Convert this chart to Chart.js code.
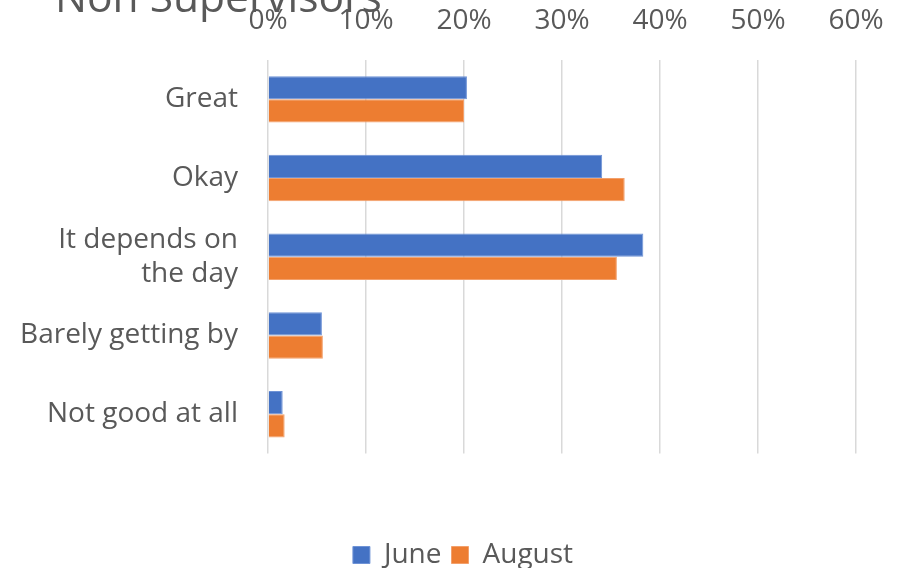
<!DOCTYPE html>
<html>
<head>
<meta charset="utf-8">
<script src="https://cdn.jsdelivr.net/npm/chart.js@4.4.1/dist/chart.umd.min.js"></script>
<style>
  html, body { margin: 0; padding: 0; background: #fff; }
  #wrap { width: 902px; height: 568px; position: relative; }
</style>
</head>
<body>
<div id="wrap"><canvas id="myChart"></canvas></div>
<script>
const categories = ['Great', 'Okay', ['It depends on', 'the day'], 'Barely getting by', 'Not good at all'];
const juneValues = [20.3, 34.1, 38.3, 5.5, 1.5];
const augustValues = [20.0, 36.4, 35.6, 5.6, 1.7];
const tickValues = [0, 10, 20, 30, 40, 50, 60];

const textColor = '#595959';
const fontFamily = "'Open Sans', 'Liberation Sans', sans-serif";

// title sits partly above the top edge of the canvas
const titlePlugin = {
    id: 'cutTitle',
    afterDraw(chart) {
        const c = chart.ctx;
        c.save();
        c.font = '42.5px ' + fontFamily;
        c.fillStyle = textColor;
        c.textBaseline = 'alphabetic';
        c.fillText('Non Supervisors', 55, 12);
        c.restore();
    }
};

// legend is centred a little right of the canvas middle
const legendShift = {
    id: 'legendShift',
    afterLayout(chart) {
        chart.legend.left += 30;
        chart.legend.right += 30;
    }
};

document.addEventListener('DOMContentLoaded', function () {
    const ctx = document.getElementById('myChart');

    new Chart(ctx, {
        type: 'bar',
        data: {
            labels: categories,
            datasets: [{
                label: 'June',
                data: juneValues,
                backgroundColor: '#4472C4',
                borderColor: '#6f93d6',
                borderWidth: 1
            }, {
                label: 'August',
                data: augustValues,
                backgroundColor: '#ED7D31',
                borderColor: '#f3a06b',
                borderWidth: 1
            }]
        },
        options: {
            indexAxis: 'y',
            responsive: true,
            maintainAspectRatio: false,
            animation: false,
            layout: {
                padding: { left: 10, right: 46, top: 0, bottom: -11 }
            },
            datasets: {
                bar: { categoryPercentage: 0.59, barPercentage: 1.0 }
            },
            scales: {
                x: {
                    position: 'top',
                    min: 0,
                    max: 60,
                    afterBuildTicks(axis) {
                        axis.ticks = tickValues.map(v => ({ value: v }));
                    },
                    afterFit(axis) {
                        axis.height = 60;
                        axis.paddingLeft = 0;
                        axis.paddingRight = 0;
                    },
                    ticks: {
                        color: textColor,
                        font: { family: fontFamily, size: 28 },
                        padding: 22,
                        callback: v => v + '%'
                    },
                    grid: { color: '#d9d9d9', lineWidth: 1.5, drawTicks: false },
                    border: { display: false }
                },
                y: {
                    afterFit(axis) { axis.width = 258; },
                    ticks: {
                        color: textColor,
                        font: { family: fontFamily, size: 28 },
                        padding: 22
                    },
                    grid: { display: false },
                    border: { display: false }
                }
            },
            plugins: {
                legend: {
                    position: 'bottom',
                    title: { display: true, text: '', padding: { top: 63, bottom: 0 } },
                    labels: {
                        color: textColor,
                        font: { family: fontFamily, size: 28 },
                        boxWidth: 17,
                        boxHeight: 17,
                        padding: 10
                    }
                },
                tooltip: { enabled: false }
            }
        },
        plugins: [titlePlugin, legendShift]
    });
});
</script>
</body>
</html>
